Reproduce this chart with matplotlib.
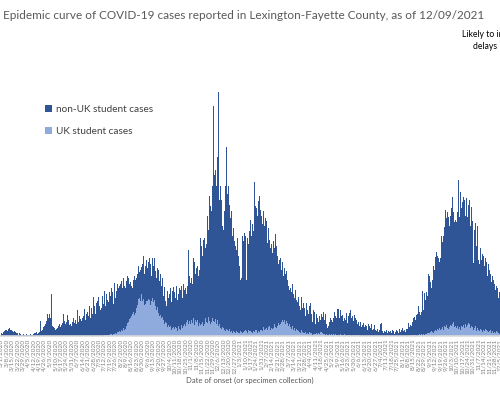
import numpy as np
import pandas as pd
import matplotlib
matplotlib.use('Agg')
import matplotlib.pyplot as plt

# daily cases, 3/1/2020 .. 12/9/2021, one row per week
total_cases = [
    4, 6, 4, 8, 6, 10, 12,
    12, 10, 26, 14, 16, 12, 14,
    12, 10, 8, 10, 6, 8, 6,
    6, 4, 2, 6, 4, 2, 4,
    2, 4, 2, 6, 2, 4, 2,
    4, 2, 2, 4, 2, 4, 2,
    4, 6, 2, 6, 8, 4, 6,
    6, 8, 30, 10, 14, 12, 18,
    20, 24, 32, 30, 44, 36, 40,
    44, 36, 84, 24, 20, 18, 16,
    12, 10, 14, 16, 20, 18, 24,
    18, 22, 26, 20, 44, 30, 24,
    36, 28, 42, 32, 22, 26, 24,
    20, 28, 24, 36, 26, 32, 24,
    30, 52, 28, 40, 44, 34, 30,
    36, 50, 40, 54, 32, 44, 38,
    48, 40, 60, 52, 36, 56, 44,
    78, 50, 60, 44, 66, 56, 70,
    78, 60, 52, 70, 56, 80, 64,
    76, 90, 60, 84, 72, 100, 68,
    88, 80, 72, 96, 88, 64, 92,
    106, 76, 90, 104, 80, 96, 100,
    104, 88, 110, 96, 116, 100, 148,
    96, 110, 120, 92, 116, 104, 108,
    100, 116, 96, 112, 120, 92, 112,
    116, 124, 140, 110, 128, 132, 138,
    202, 144, 160, 124, 170, 140, 152,
    136, 148, 130, 156, 144, 120, 156,
    156, 140, 156, 130, 144, 116, 136,
    132, 120, 110, 124, 100, 116, 96,
    80, 98, 70, 88, 60, 90, 76,
    84, 72, 96, 68, 90, 80, 98,
    88, 76, 94, 100, 72, 84, 96,
    80, 92, 100, 76, 88, 104, 92,
    96, 84, 110, 100, 172, 120, 106,
    106, 116, 104, 156, 166, 148, 124,
    136, 124, 140, 120, 132, 196, 160,
    180, 160, 192, 168, 196, 176, 184,
    296, 240, 212, 280, 260, 286, 250,
    300, 460, 330, 322, 332, 300, 358,
    280, 488, 272, 300, 240, 272, 220,
    212, 250, 446, 300, 378, 284, 340,
    300, 262, 236, 226, 250, 200, 216,
    190, 166, 180, 172, 196, 176, 160,
    140, 112, 116, 124, 200, 190, 206,
    192, 200, 112, 196, 184, 440, 210,
    232, 200, 216, 224, 210, 308, 260,
    266, 256, 240, 270, 236, 280, 252,
    240, 260, 224, 250, 220, 236, 216,
    230, 186, 216, 200, 192, 176, 184,
    166, 226, 190, 176, 204, 168, 180,
    160, 144, 152, 140, 156, 132, 148,
    146, 120, 136, 124, 130, 116, 112,
    100, 92, 112, 96, 88, 104, 80,
    84, 76, 92, 72, 80, 68, 78,
    60, 72, 52, 78, 56, 66, 46,
    56, 40, 66, 36, 52, 44, 60,
    66, 36, 44, 28, 52, 40, 48,
    24, 44, 36, 52, 28, 40, 32,
    56, 44, 38, 48, 40, 32, 44,
    24, 16, 32, 20, 28, 36, 30,
    32, 28, 36, 48, 32, 40, 36,
    54, 44, 54, 36, 52, 40, 26,
    42, 30, 36, 58, 32, 46, 26,
    40, 32, 46, 52, 36, 26, 40,
    30, 42, 26, 36, 32, 24, 28,
    24, 20, 28, 18, 24, 22, 26,
    18, 22, 14, 20, 12, 24, 16,
    20, 16, 24, 12, 18, 14, 22,
    12, 16, 10, 14, 8, 12, 16,
    24, 26, 10, 12, 6, 10, 8,
    8, 12, 6, 10, 8, 4, 10,
    6, 12, 8, 10, 4, 8, 12,
    8, 10, 6, 14, 10, 8, 12,
    16, 10, 18, 12, 8, 14, 20,
    14, 26, 18, 28, 22, 20, 28,
    36, 28, 38, 32, 42, 36, 44,
    60, 48, 42, 52, 48, 90, 52,
    92, 86, 72, 88, 80, 76, 124,
    120, 108, 124, 96, 112, 140, 132,
    144, 158, 168, 160, 168, 156, 148,
    156, 164, 200, 188, 200, 218, 208,
    252, 236, 248, 192, 238, 220, 240,
    256, 374, 278, 248, 228, 240, 232,
    228, 248, 312, 260, 238, 288, 256,
    198, 268, 278, 272, 240, 260, 276,
    238, 262, 244, 272, 220, 258, 206,
    230, 146, 212, 226, 216, 180, 220,
    152, 160, 144, 176, 152, 164, 168,
    160, 140, 156, 136, 148, 120, 144,
    132, 116, 124, 108, 120, 100, 112,
    104, 92, 100, 84, 96, 76, 88,
    80, 68, 72, 56, 40,
]

uk_student_cases = [0] * (19 * 7) + [
    0, 2, 0, 2, 2, 0, 2,
    2, 4, 2, 4, 2, 4, 6,
    4, 6, 4, 8, 6, 8, 10,
    8, 10, 12, 10, 16, 12, 20,
    14, 20, 26, 30, 28, 34, 36,
    40, 36, 44, 48, 42, 50, 46,
    56, 62, 74, 64, 76, 70, 84,
    118, 70, 74, 62, 68, 64, 70,
    70, 74, 64, 72, 62, 70, 66,
    76, 68, 72, 60, 64, 52, 58,
    46, 44, 40, 42, 36, 38, 32,
    32, 24, 28, 20, 26, 18, 22,
    18, 14, 20, 12, 16, 10, 18,
    14, 18, 12, 16, 10, 20, 14,
    18, 12, 22, 16, 26, 20, 24,
    20, 28, 22, 32, 24, 30, 26,
    24, 32, 26, 36, 28, 22, 32,
    28, 24, 32, 20, 26, 22, 30,
    24, 28, 20, 32, 24, 36, 28,
    32, 26, 38, 30, 24, 34, 28,
    36, 30, 38, 28, 34, 24, 32,
    26, 20, 24, 16, 22, 14, 18,
    16, 12, 18, 10, 14, 12, 16,
    10, 14, 8, 12, 10, 6, 10,
    8, 12, 6, 10, 8, 12, 6,
    6, 10, 8, 12, 6, 8, 10,
    8, 12, 10, 6, 12, 8, 10,
    10, 8, 12, 6, 10, 8, 12,
    8, 12, 6, 10, 14, 8, 12,
    12, 16, 10, 18, 12, 14, 10,
    16, 12, 18, 14, 20, 12, 16,
    14, 20, 16, 24, 18, 22, 16,
    20, 26, 22, 30, 24, 28, 32,
    36, 28, 32, 24, 30, 22, 26,
    20, 24, 16, 18, 14, 20, 12,
    12, 16, 10, 14, 8, 12, 10,
    8, 10, 6, 12, 8, 6, 10,
    6, 8, 4, 10, 6, 4, 8,
    6, 4, 6, 2, 4, 6, 4,
    4, 6, 4, 2, 6, 4, 8,
    6, 8, 6, 4, 6, 4, 2,
    4, 2, 4, 2, 4, 2, 4,
    4, 2, 4, 2, 2, 4, 2,
    2, 4, 2, 2, 4, 2, 2,
    2, 2, 4, 2, 2, 0, 2,
    2, 0, 2, 2, 0, 2, 2,
    0, 2, 0, 2, 0, 2, 0,
    0, 2, 0, 0, 2, 0, 0,
] + [0] * (8 * 7) + [
    0, 0, 2, 0, 0, 2, 0,
    2, 0, 2, 2, 0, 2, 2,
    2, 4, 2, 4, 4, 2, 4,
    4, 2, 4, 4, 6, 4, 6,
    6, 8, 6, 10, 8, 6, 10,
    8, 12, 10, 14, 10, 12, 16,
    12, 16, 14, 18, 12, 20, 16,
    18, 22, 16, 20, 14, 18, 22,
    20, 16, 24, 28, 18, 22, 20,
    16, 20, 14, 22, 18, 12, 20,
    14, 18, 22, 16, 24, 20, 18,
    22, 26, 18, 24, 16, 20, 14,
    18, 12, 16, 20, 14, 10, 16,
    12, 16, 10, 14, 12, 8, 14,
    12, 10, 14, 8, 12, 10, 8,
    10, 8, 12, 6, 10, 8, 6,
    8, 6, 10, 4, 8, 6, 4,
    6, 4, 6, 2, 2,
]

total_cases = np.array(total_cases)
uk_student_cases = np.array(uk_student_cases)
non_uk_cases = total_cases - uk_student_cases

dates = pd.date_range('2020-03-01', periods=len(total_cases), freq='D')
days = np.arange(len(dates))
tick_days = days[::7]
tick_labels = [f'{d.month}/{d.day}/{d.year}' for d in dates[::7]]

dark_blue = '#2F5597'
light_blue = '#8FAADC'
plt.rcParams['font.family'] = ['Lato', 'DejaVu Sans']

fig = plt.figure(figsize=(5, 3.95), dpi=100)
ax = fig.add_axes([0, 59 / 395, 1, 276 / 395])

ax.bar(days, uk_student_cases, width=1.0, color=light_blue, linewidth=0,
       label='UK student cases')
ax.bar(days, non_uk_cases, width=1.0, bottom=uk_student_cases, color=dark_blue,
       linewidth=0, label='non-UK student cases')

px_per_day = 0.8
ax.set_xlim(-1 / px_per_day, -1 / px_per_day + 500 / px_per_day)
ax.set_ylim(0, 552)

for s in ['top', 'right', 'left']:
    ax.spines[s].set_visible(False)
ax.spines['bottom'].set_color('#d9d9d9')
ax.spines['bottom'].set_linewidth(1.2)
ax.set_yticks([])
ax.set_xticks(tick_days)
ax.set_xticklabels(tick_labels, rotation=90, fontsize=4.6, color='#808080')
ax.tick_params(axis='x', length=0, pad=2)

ax.set_xlabel('Date of onset (or specimen collection)', fontsize=5.5,
              color='#595959', labelpad=2)

handles, labels = ax.get_legend_handles_labels()
ax.legend(handles[::-1], labels[::-1], loc='upper left',
          bbox_to_anchor=(0.072, 0.87), frameon=False, fontsize=7.2,
          handlelength=0.7, handleheight=0.7, handletextpad=0.4,
          labelspacing=1.3, labelcolor='#404040')

fig.text(0.006, 0.962, 'Epidemic curve of COVID-19 cases reported in '
         'Lexington-Fayette County, as of 12/09/2021',
         fontsize=8.5, color='#595959', va='center', ha='left')
fig.text(1.017, 0.897, 'Likely to increase due to\ndelays in reporting',
         fontsize=6.2, color='black', ha='center', va='center',
         linespacing=1.5)

fig.savefig('out.png', dpi=100)
